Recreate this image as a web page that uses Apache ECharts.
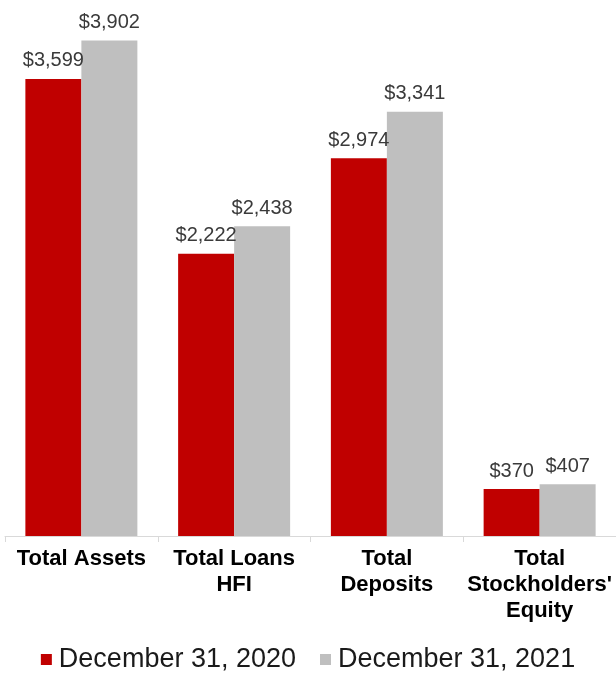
<!DOCTYPE html>
<html lang="en">
<head>
    <meta charset="UTF-8">
    <title>Balance Sheet</title>
    <script src="https://cdn.jsdelivr.net/npm/echarts@6/dist/echarts.min.js"></script>
    <style>
        html, body { margin: 0; padding: 0; background: #fff; }
        #chart { width: 616px; height: 675px; }
    </style>
</head>
<body>
    <div id="chart"></div>
    <script>
        // categories and values ($ millions)
        var categories = ['Total Assets', 'Total Loans\nHFI', 'Total\nDeposits', "Total\nStockholders'\nEquity"];
        var seriesNames = ['December 31, 2020', 'December 31, 2021'];
        var values2020 = [3599, 2222, 2974, 370];
        var values2021 = [3902, 2438, 3341, 407];

        var chart = echarts.init(document.getElementById('chart'));

        var labelStyle = {
            show: true,
            position: 'top',
            distance: 8,
            fontFamily: 'Liberation Sans, Arial, sans-serif',
            fontSize: 20,
            color: '#3a3a3a',
            formatter: function (p) {
                return '$' + p.value.toLocaleString('en-US');
            }
        };

        chart.setOption({
            animation: false,
            textStyle: { fontFamily: 'Liberation Sans, Arial, sans-serif' },
            grid: { left: 5, right: 0, top: 0, bottom: 139 },
            legend: {
                data: seriesNames,
                left: 'center',
                top: 641,
                icon: 'rect',
                itemWidth: 11,
                itemHeight: 11,
                itemGap: 24,
                textStyle: { fontSize: 27, color: '#1a1a1a', padding: [0, 0, 0, 2] }
            },
            xAxis: {
                type: 'category',
                data: categories,
                axisLine: { lineStyle: { color: '#d9d9d9', width: 1 } },
                axisTick: { show: true, length: 6, lineStyle: { color: '#d9d9d9' } },
                axisLabel: {
                    interval: 0,
                    margin: 10,
                    fontSize: 22,
                    fontWeight: 'bold',
                    lineHeight: 26,
                    color: '#000'
                }
            },
            yAxis: {
                type: 'value',
                min: 0,
                max: 4220,
                show: false,
                splitLine: { show: false }
            },
            series: [
                {
                    name: seriesNames[0],
                    type: 'bar',
                    data: values2020,
                    barWidth: 56,
                    barGap: '0%',
                    itemStyle: { color: '#c00000' },
                    label: labelStyle
                },
                {
                    name: seriesNames[1],
                    type: 'bar',
                    data: values2021,
                    barWidth: 56,
                    barGap: '0%',
                    itemStyle: { color: '#bfbfbf' },
                    label: labelStyle
                }
            ]
        });
    </script>
</body>
</html>
